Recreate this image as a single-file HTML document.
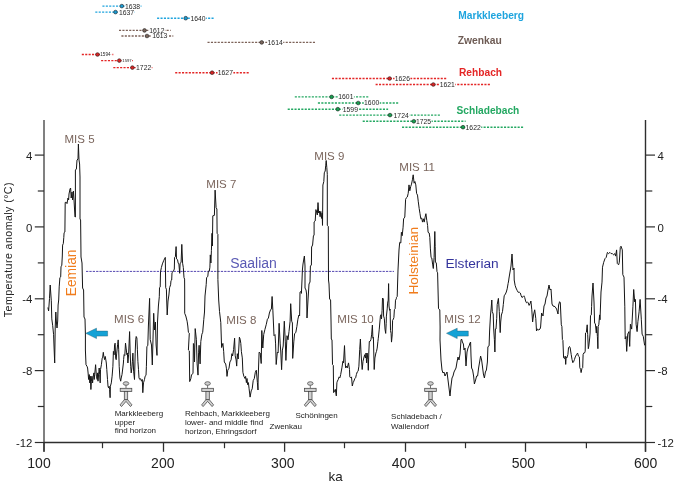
<!DOCTYPE html>
<html><head><meta charset="utf-8"><style>
html,body{margin:0;padding:0;background:#fff;}
svg{display:block;will-change:transform;}
text{font-family:"Liberation Sans", sans-serif;}
</style></head><body>
<svg width="675" height="485" viewBox="0 0 675 485">
<rect width="675" height="485" fill="#fff"/>
<line x1="102.4" y1="6.1" x2="141.5" y2="6.1" stroke="#1ea4de" stroke-width="1.4" stroke-dasharray="2.1 1.3"/>
<rect x="124.7" y="3.0" width="15.9" height="6.1" fill="#fff"/>
<text x="125.0" y="8.5" font-size="6.8" fill="#262626">1638</text>
<circle cx="121.8" cy="6.1" r="1.85" fill="#1a9ad2" stroke="#222" stroke-width="0.6"/>
<line x1="95.3" y1="12.1" x2="135.5" y2="12.1" stroke="#1ea4de" stroke-width="1.4" stroke-dasharray="2.1 1.3"/>
<rect x="118.7" y="9.0" width="15.9" height="6.1" fill="#fff"/>
<text x="119.0" y="14.5" font-size="6.8" fill="#262626">1637</text>
<circle cx="115.5" cy="12.1" r="1.85" fill="#1a9ad2" stroke="#222" stroke-width="0.6"/>
<line x1="157.1" y1="18.2" x2="214.0" y2="18.2" stroke="#1ea4de" stroke-width="1.4" stroke-dasharray="2.1 1.3"/>
<rect x="190.1" y="15.1" width="15.9" height="6.1" fill="#fff"/>
<text x="190.4" y="20.6" font-size="6.8" fill="#262626">1640</text>
<circle cx="185.7" cy="18.2" r="1.85" fill="#1a9ad2" stroke="#222" stroke-width="0.6"/>
<line x1="119.0" y1="30.4" x2="170.7" y2="30.4" stroke="#7c6258" stroke-width="1.4" stroke-dasharray="2.1 1.3"/>
<rect x="149.0" y="27.3" width="15.9" height="6.1" fill="#fff"/>
<text x="149.3" y="32.8" font-size="6.8" fill="#262626">1612</text>
<circle cx="144.5" cy="30.4" r="1.85" fill="#7a665c" stroke="#222" stroke-width="0.6"/>
<line x1="121.4" y1="36.0" x2="173.3" y2="36.0" stroke="#7c6258" stroke-width="1.4" stroke-dasharray="2.1 1.3"/>
<rect x="151.9" y="32.9" width="15.9" height="6.1" fill="#fff"/>
<text x="152.2" y="38.4" font-size="6.8" fill="#262626">1613</text>
<circle cx="147.0" cy="36.0" r="1.85" fill="#7a665c" stroke="#222" stroke-width="0.6"/>
<line x1="207.5" y1="42.4" x2="315.6" y2="42.4" stroke="#7c6258" stroke-width="1.4" stroke-dasharray="2.1 1.3"/>
<rect x="267.3" y="39.3" width="15.9" height="6.1" fill="#fff"/>
<text x="267.6" y="44.8" font-size="6.8" fill="#262626">1614</text>
<circle cx="261.7" cy="42.4" r="1.85" fill="#7a665c" stroke="#222" stroke-width="0.6"/>
<line x1="81.8" y1="54.5" x2="113.3" y2="54.5" stroke="#e42626" stroke-width="1.4" stroke-dasharray="2.1 1.3"/>
<rect x="100.0" y="52.4" width="11.0" height="4.1" fill="#fff"/>
<text x="100.3" y="56.2" font-size="4.6" fill="#262626">1594</text>
<circle cx="97.5" cy="54.5" r="1.85" fill="#d82424" stroke="#222" stroke-width="0.6"/>
<line x1="101.1" y1="60.6" x2="132.9" y2="60.6" stroke="#e42626" stroke-width="1.4" stroke-dasharray="2.1 1.3"/>
<rect x="122.0" y="58.7" width="10.1" height="3.8" fill="#fff"/>
<text x="122.3" y="62.1" font-size="4.2" fill="#262626">1597</text>
<circle cx="119.3" cy="60.6" r="1.85" fill="#d82424" stroke="#222" stroke-width="0.6"/>
<line x1="113.3" y1="67.6" x2="152.4" y2="67.6" stroke="#e42626" stroke-width="1.4" stroke-dasharray="2.1 1.3"/>
<rect x="135.8" y="64.5" width="15.9" height="6.1" fill="#fff"/>
<text x="136.1" y="70.0" font-size="6.8" fill="#262626">1722</text>
<circle cx="132.4" cy="67.6" r="1.85" fill="#d82424" stroke="#222" stroke-width="0.6"/>
<line x1="175.2" y1="72.7" x2="248.9" y2="72.7" stroke="#e42626" stroke-width="1.4" stroke-dasharray="2.1 1.3"/>
<rect x="217.5" y="69.6" width="15.9" height="6.1" fill="#fff"/>
<text x="217.8" y="75.1" font-size="6.8" fill="#262626">1627</text>
<circle cx="212.1" cy="72.7" r="1.85" fill="#d82424" stroke="#222" stroke-width="0.6"/>
<line x1="331.9" y1="78.5" x2="446.7" y2="78.5" stroke="#e42626" stroke-width="1.4" stroke-dasharray="2.1 1.3"/>
<rect x="394.5" y="75.4" width="15.9" height="6.1" fill="#fff"/>
<text x="394.8" y="80.9" font-size="6.8" fill="#262626">1626</text>
<circle cx="389.6" cy="78.5" r="1.85" fill="#d82424" stroke="#222" stroke-width="0.6"/>
<line x1="375.6" y1="84.5" x2="490.7" y2="84.5" stroke="#e42626" stroke-width="1.4" stroke-dasharray="2.1 1.3"/>
<rect x="439.4" y="81.4" width="15.9" height="6.1" fill="#fff"/>
<text x="439.7" y="86.9" font-size="6.8" fill="#262626">1621</text>
<circle cx="433.3" cy="84.5" r="1.85" fill="#d82424" stroke="#222" stroke-width="0.6"/>
<line x1="294.8" y1="96.9" x2="368.6" y2="96.9" stroke="#24a862" stroke-width="1.4" stroke-dasharray="2.1 1.3"/>
<rect x="338.0" y="93.8" width="15.9" height="6.1" fill="#fff"/>
<text x="338.3" y="99.3" font-size="6.8" fill="#262626">1601</text>
<circle cx="331.6" cy="96.9" r="1.85" fill="#17a050" stroke="#222" stroke-width="0.6"/>
<line x1="317.9" y1="103.0" x2="398.8" y2="103.0" stroke="#24a862" stroke-width="1.4" stroke-dasharray="2.1 1.3"/>
<rect x="363.8" y="99.9" width="15.9" height="6.1" fill="#fff"/>
<text x="364.1" y="105.4" font-size="6.8" fill="#262626">1600</text>
<circle cx="358.2" cy="103.0" r="1.85" fill="#17a050" stroke="#222" stroke-width="0.6"/>
<line x1="287.7" y1="109.2" x2="388.1" y2="109.2" stroke="#24a862" stroke-width="1.4" stroke-dasharray="2.1 1.3"/>
<rect x="342.5" y="106.1" width="15.9" height="6.1" fill="#fff"/>
<text x="342.8" y="111.6" font-size="6.8" fill="#262626">1599</text>
<circle cx="337.8" cy="109.2" r="1.85" fill="#17a050" stroke="#222" stroke-width="0.6"/>
<line x1="339.2" y1="115.1" x2="440.0" y2="115.1" stroke="#24a862" stroke-width="1.4" stroke-dasharray="2.1 1.3"/>
<rect x="393.3" y="112.0" width="15.9" height="6.1" fill="#fff"/>
<text x="393.6" y="117.5" font-size="6.8" fill="#262626">1724</text>
<circle cx="390.0" cy="115.1" r="1.85" fill="#17a050" stroke="#222" stroke-width="0.6"/>
<line x1="362.7" y1="121.3" x2="465.6" y2="121.3" stroke="#24a862" stroke-width="1.4" stroke-dasharray="2.1 1.3"/>
<rect x="415.7" y="118.2" width="15.9" height="6.1" fill="#fff"/>
<text x="416.0" y="123.7" font-size="6.8" fill="#262626">1725</text>
<circle cx="413.8" cy="121.3" r="1.85" fill="#17a050" stroke="#222" stroke-width="0.6"/>
<line x1="402.0" y1="127.2" x2="524.4" y2="127.2" stroke="#24a862" stroke-width="1.4" stroke-dasharray="2.1 1.3"/>
<rect x="465.3" y="124.1" width="15.9" height="6.1" fill="#fff"/>
<text x="465.6" y="129.6" font-size="6.8" fill="#262626">1622</text>
<circle cx="463.0" cy="127.2" r="1.85" fill="#17a050" stroke="#222" stroke-width="0.6"/>
<text x="458.3" y="18.7" font-size="10.2" font-weight="bold" fill="#1ea4de">Markkleeberg</text>
<text x="457.8" y="43.9" font-size="10.3" font-weight="bold" fill="#6e5c55">Zwenkau</text>
<text x="459.0" y="76.3" font-size="10.2" font-weight="bold" fill="#e42626">Rehbach</text>
<text x="456.5" y="113.7" font-size="10.2" font-weight="bold" fill="#24a862">Schladebach</text>
<line x1="86" y1="271.4" x2="394" y2="271.4" stroke="#5346b0" stroke-width="1.0" stroke-dasharray="2.3 1.07"/>
<polyline points="47.9,307.5 48.6,311.0 49.5,298.5 50.2,285.0 51.3,300.8 51.8,318.9 52.7,325.7 53.6,334.7 54.0,346.0 54.7,363.0 55.2,328.0 55.8,312.0 56.4,322.0 57.0,328.0 57.7,321.0 58.1,305.0 58.7,300.0 59.2,286.9 59.9,277.6 60.7,276.9 61.0,266.8 61.8,265.2 62.3,256.0 62.6,245.1 63.3,243.6 63.8,237.4 64.1,232.7 64.9,232.0 65.2,202.4 66.4,202.4 67.0,203.6 68.0,198.0 68.6,200.0 69.0,194.0 70.0,189.0 70.6,188.0 71.2,198.0 72.0,192.0 72.6,200.0 73.4,191.0 74.0,200.0 75.0,217.0 75.4,217.0 75.4,170.0 76.4,169.0 77.0,160.0 78.0,159.0 78.4,144.0 79.0,160.0 79.6,164.0 80.0,177.0 80.0,219.0 80.6,220.0 80.8,237.0 81.0,257.0 82.0,263.0 82.6,288.0 83.6,290.0 84.0,317.0 85.0,319.0 85.4,334.0 85.4,350.0 86.0,364.7 87.0,366.3 87.6,368.0 88.1,373.0 88.6,379.5 89.3,374.6 89.8,382.9 90.3,376.2 90.9,389.5 91.4,381.2 91.9,376.2 92.6,382.9 93.1,377.0 93.9,372.9 94.2,379.5 94.7,374.6 95.6,364.7 96.4,376.2 97.2,379.5 97.6,372.9 98.0,381.2 98.9,371.3 99.2,368.0 99.7,374.6 100.2,382.9 100.5,369.6 101.4,364.7 102.2,358.1 102.7,357.2 103.3,352.3 103.8,356.4 104.7,359.7 105.2,356.4 105.8,359.7 106.3,363.0 106.8,369.6 107.5,379.5 108.0,386.2 108.5,387.8 109.1,386.2 109.6,389.5 110.1,397.7 110.4,386.2 111.3,382.9 112.1,376.2 112.9,366.3 113.4,351.4 114.1,354.8 114.6,344.8 115.1,343.2 115.7,358.1 116.2,359.7 116.7,353.1 117.6,344.8 118.2,339.9 118.7,349.8 119.2,366.3 119.9,377.9 120.7,381.2 121.2,378.0 122.0,374.6 122.8,368.0 123.4,363.0 123.6,359.7 124.1,354.7 124.8,355.5 125.5,343.1 126.1,348.1 126.9,354.7 127.4,353.0 127.9,363.0 128.6,354.7 129.1,343.1 129.6,331.6 130.2,353.1 130.7,366.3 131.2,372.9 131.9,367.9 132.4,361.3 132.9,353.1 133.6,371.2 134.5,379.5 135.2,353.1 135.7,339.8 136.2,336.5 136.9,338.0 137.4,349.8 137.9,361.3 138.5,369.6 139.0,377.9 139.8,379.5 140.7,378.7 141.5,381.2 142.3,379.5 142.8,392.7 143.5,382.8 144.5,379.5 145.1,376.2 146.0,375.4 146.4,366.3 146.9,346.4 147.8,345.6 148.4,326.0 149.6,298.4 150.2,339.6 151.5,345.0 152.3,365.0 153.7,313.3 154.5,330.0 155.4,322.0 156.1,345.0 157.0,355.4 157.5,322.0 158.4,306.0 159.3,296.7 159.5,287.7 160.2,287.0 160.5,271.8 161.4,267.5 162.4,263.9 163.8,260.3 165.3,257.4 165.7,287.7 166.4,289.2 166.7,300.0 167.2,315.0 168.0,301.0 168.9,295.0 169.6,287.7 170.6,284.8 171.0,280.5 171.7,280.0 172.0,272.6 172.9,271.8 173.5,271.0 174.3,269.0 174.6,257.4 175.4,256.7 176.1,246.6 176.5,258.9 177.5,259.6 178.2,263.2 178.9,264.0 179.7,273.3 180.1,263.2 181.1,262.5 181.8,244.4 182.6,263.2 183.3,267.5 184.0,277.6 184.6,279.1 184.7,290.0 184.7,313.3 185.8,316.0 187.1,321.2 187.8,326.0 188.4,332.3 189.3,333.2 188.4,350.0 189.3,350.9 189.7,381.6 190.8,378.8 191.5,375.0 193.0,373.2 193.4,343.5 193.9,345.3 194.5,362.0 195.2,328.6 196.4,339.7 197.1,363.9 198.0,375.1 198.6,352.8 199.1,345.3 200.1,363.9 200.8,341.6 201.9,334.2 202.7,332.3 203.8,319.3 204.5,312.0 205.0,296.0 206.2,284.6 206.6,277.5 207.8,276.5 208.3,271.3 209.3,271.0 209.9,267.2 210.3,254.9 210.9,263.0 211.4,250.7 212.0,233.3 212.4,246.0 212.8,215.8 214.4,215.4 215.1,190.1 216.1,207.6 216.9,209.0 217.1,233.3 217.9,234.3 217.9,279.5 218.7,300.0 219.5,311.4 220.8,322.7 221.6,347.5 222.9,343.4 223.7,351.7 224.3,362.0 225.7,364.0 226.4,368.2 227.0,376.4 227.8,370.2 229.0,368.2 229.9,362.0 231.1,359.9 231.9,353.7 232.6,356.0 233.6,349.6 234.6,338.2 235.2,355.8 236.1,359.9 236.7,366.1 237.3,353.7 238.2,359.0 239.4,337.2 240.2,339.3 240.8,343.4 241.4,351.7 242.3,357.9 242.9,372.3 243.9,376.4 245.0,378.5 245.6,376.4 246.4,382.6 247.0,378.5 247.6,384.7 248.4,382.6 249.1,388.8 250.1,397.1 251.2,390.9 252.2,388.8 253.2,380.6 254.3,378.5 255.3,372.3 256.3,370.2 257.4,382.6 258.0,390.0 258.1,380.0 259.1,352.2 260.2,353.0 261.2,363.5 261.8,330.5 262.8,348.0 263.7,334.6 264.9,329.5 266.3,324.3 267.4,319.2 268.4,318.1 269.4,313.0 270.5,309.9 271.4,309.0 272.1,296.5 272.9,310.9 274.0,335.7 275.0,334.6 275.6,343.9 276.2,364.5 277.3,352.2 278.1,353.0 279.1,323.3 280.2,343.9 280.8,352.0 281.6,369.7 282.4,350.1 283.2,346.0 284.3,321.2 285.3,341.9 285.9,360.4 287.0,335.7 288.0,339.8 289.0,331.5 290.1,321.2 290.7,303.7 291.7,321.2 292.4,323.0 292.7,358.4 293.8,341.9 294.6,333.6 295.8,332.6 296.9,326.4 297.9,319.2 298.9,315.0 299.6,316.0 300.0,292.4 300.8,291.4 301.4,293.4 302.0,280.0 302.4,270.0 303.0,264.0 304.0,258.0 304.4,256.0 305.0,266.0 305.0,288.0 306.0,290.0 306.6,294.0 307.0,318.0 308.0,300.0 309.0,284.0 310.0,282.0 310.4,266.0 311.4,265.0 311.6,247.0 312.6,245.0 313.4,236.0 314.1,235.0 314.1,222.0 315.2,221.0 315.9,209.6 316.6,212.0 317.3,215.0 318.0,202.6 318.7,213.0 319.4,211.0 320.1,216.7 320.8,211.4 321.5,218.4 322.2,213.0 322.5,225.4 322.9,185.0 323.8,181.6 324.3,172.8 325.2,171.0 325.7,165.8 326.2,160.5 326.8,167.5 327.3,174.6 327.3,225.4 328.3,226.3 328.5,280.0 329.0,284.0 329.6,299.0 330.6,300.0 331.0,320.0 331.3,339.0 332.0,340.0 332.5,364.6 333.3,365.4 333.6,392.6 334.6,391.0 335.3,389.3 336.3,395.9 336.9,382.7 337.4,381.1 338.3,379.4 339.1,376.9 339.9,377.8 340.7,374.5 341.9,367.9 342.9,361.3 343.5,362.9 344.5,345.6 345.2,362.9 345.7,367.9 346.5,366.2 347.3,367.9 348.5,362.9 349.5,369.5 349.8,376.9 350.6,377.8 351.5,376.9 352.3,386.0 353.1,382.7 353.9,381.1 354.8,378.6 355.6,377.8 356.4,374.5 357.2,372.0 358.1,371.2 358.9,366.2 359.7,349.7 360.4,339.0 361.0,353.0 362.2,369.5 363.0,361.3 363.8,358.0 364.7,354.7 365.5,358.0 366.0,353.0 366.6,362.9 367.1,353.0 367.9,359.6 368.3,370.3 368.8,353.0 369.3,341.5 370.0,341.5 370.9,339.8 371.6,334.9 372.4,325.0 372.9,338.2 373.4,337.3 374.2,369.5 374.9,358.0 375.9,353.0 376.5,351.4 377.2,348.1 377.9,341.5 378.3,338.2 379.2,329.9 380.4,316.1 381.0,314.7 381.5,319.0 382.1,310.3 382.5,298.0 383.3,298.8 383.6,316.1 384.3,318.3 385.0,329.1 385.7,333.4 386.2,323.3 386.4,316.1 387.2,308.9 387.6,303.1 388.2,300.2 388.6,283.6 389.0,306.0 389.6,310.3 390.1,309.0 390.5,330.5 391.1,333.4 391.5,342.1 392.2,334.9 392.6,320.4 393.4,319.0 393.9,317.5 394.4,309.6 395.1,308.9 395.5,300.2 396.3,298.8 396.5,297.3 397.2,296.5 397.7,280.0 398.0,270.0 399.0,250.0 399.7,242.4 400.8,243.0 401.4,232.3 402.2,235.7 403.1,227.2 403.6,218.8 404.8,217.1 405.6,199.3 406.5,197.6 407.3,197.0 408.2,193.4 409.0,184.9 409.8,190.8 410.7,186.6 411.5,184.1 412.4,179.8 413.2,174.8 414.1,183.2 414.9,181.5 415.8,184.9 416.6,193.4 417.5,195.1 418.3,201.8 419.2,208.6 420.0,213.7 420.8,218.8 421.7,218.0 422.5,222.1 423.4,218.8 424.2,222.1 425.1,217.1 425.9,213.7 426.8,220.5 427.6,225.5 428.1,232.3 429.2,233.0 429.8,237.4 430.4,248.9 431.1,257.6 431.8,258.0 432.6,264.1 433.3,268.5 434.1,257.6 434.8,231.5 435.2,246.7 435.4,262.0 436.3,263.0 437.0,271.7 437.6,272.8 438.5,308.7 439.8,309.8 440.1,327.0 440.0,340.0 441.0,360.0 442.0,370.0 443.0,373.0 444.0,372.0 445.0,376.0 446.0,374.0 447.0,372.0 448.0,380.0 449.0,388.0 450.0,396.0 451.0,386.0 452.0,378.0 453.0,376.0 454.0,372.0 455.0,370.0 456.0,368.0 457.0,362.0 458.0,357.0 459.0,360.0 460.0,354.0 461.0,340.0 461.6,339.0 462.4,342.0 463.4,344.0 464.0,350.0 465.0,348.0 466.0,366.0 467.0,352.0 468.0,348.0 469.0,346.0 470.0,343.0 470.6,342.0 471.0,356.0 471.6,368.0 472.6,370.0 473.6,376.0 474.4,384.0 475.6,380.0 476.6,376.0 477.6,376.0 478.6,368.0 479.6,362.0 480.6,356.0 481.6,360.0 482.4,366.0 483.4,374.0 484.4,378.0 485.4,372.0 486.4,370.0 487.4,362.0 487.9,346.7 489.1,345.8 489.6,331.0 490.5,315.0 491.1,309.0 491.8,300.0 492.3,311.6 493.2,314.0 493.7,329.0 494.4,339.6 494.9,352.0 495.4,329.0 496.0,329.0 496.7,318.6 497.2,304.6 498.4,298.4 499.3,311.6 500.2,332.6 500.7,322.0 501.4,315.0 502.5,311.6 503.3,304.6 504.2,295.8 505.4,294.0 506.3,292.0 507.2,288.8 508.1,283.5 508.6,281.0 509.0,278.0 510.0,272.0 511.0,266.0 512.0,254.0 513.0,270.0 514.0,268.0 514.2,280.0 515.1,285.3 516.0,288.0 517.2,290.5 518.2,292.3 519.5,292.3 520.3,293.0 521.2,295.8 522.0,297.5 523.0,296.7 523.9,295.8 524.7,297.5 525.6,301.0 526.5,302.8 527.4,302.0 528.2,302.8 529.1,305.4 530.0,303.7 530.9,301.0 531.8,309.8 532.6,322.0 533.5,315.0 534.7,309.8 535.8,318.6 536.5,331.0 537.5,329.0 538.8,330.0 540.0,329.0 540.6,327.0 541.6,313.0 543.0,316.0 544.0,306.0 545.0,304.0 546.0,298.0 547.0,296.0 548.0,290.0 549.0,285.0 550.0,290.0 551.0,289.0 552.0,304.0 553.0,306.0 555.0,306.6 556.6,309.0 558.0,314.0 558.6,305.0 559.6,301.7 560.3,302.5 561.3,324.8 561.9,326.4 562.4,339.6 562.9,340.4 563.6,357.8 564.6,358.6 565.2,356.1 565.7,364.4 566.2,356.9 566.9,357.8 567.9,354.5 568.5,347.9 569.5,346.5 570.2,347.9 571.2,354.5 572.0,359.4 572.8,362.7 573.5,361.9 574.5,359.4 575.3,356.9 576.5,354.5 577.6,353.1 578.4,356.1 579.4,356.9 579.8,367.7 580.6,369.3 581.1,372.6 581.9,368.5 582.7,367.7 583.1,354.5 583.9,352.8 584.7,352.8 585.2,351.2 585.5,333.0 586.4,332.2 587.2,324.8 587.7,334.7 588.3,348.7 588.8,346.2 589.7,338.0 590.1,333.0 590.5,315.7 591.3,314.9 591.6,306.6 592.0,296.0 593.0,283.0 594.0,302.0 594.6,323.1 595.4,323.9 596.3,333.0 596.7,326.4 597.4,336.3 597.9,348.7 598.2,326.4 598.8,324.8 599.6,314.9 600.0,319.8 601.0,292.0 602.0,282.1 602.5,267.2 603.7,262.3 605.0,258.6 606.2,257.4 607.4,252.4 608.6,253.6 609.9,252.4 611.1,253.6 612.4,253.6 613.6,254.8 614.9,253.6 615.6,256.1 616.6,249.9 617.3,263.5 618.6,264.8 619.3,262.3 620.3,247.4 621.0,246.2 622.3,249.9 622.8,274.7 624.0,277.1 624.8,306.8 625.2,339.0 626.0,336.5 626.7,351.4 627.7,334.1 629.0,331.6 629.7,346.4 630.4,324.2 631.7,329.1 632.9,306.8 633.7,289.5 634.7,301.9 635.4,299.4 636.1,324.2 637.1,331.6 637.9,321.7 639.1,311.8 640.1,299.4 641.3,319.2 642.1,334.1 643.3,336.5 644.6,345.2 645.3,344.0" fill="none" stroke="#151515" stroke-width="1.0" stroke-linejoin="miter" stroke-miterlimit="3"/>
<line x1="44.0" y1="120.0" x2="44.0" y2="451.8" stroke="#6a6a6a" stroke-width="1.7"/>
<line x1="645.5" y1="120.0" x2="645.5" y2="451.8" stroke="#2e2e2e" stroke-width="1.4"/>
<line x1="44.0" y1="442.5" x2="645.5" y2="442.5" stroke="#2e2e2e" stroke-width="1.4"/>
<line x1="34.8" y1="155.1" x2="44.0" y2="155.1" stroke="#2e2e2e" stroke-width="1.2"/>
<line x1="645.5" y1="155.1" x2="655" y2="155.1" stroke="#2e2e2e" stroke-width="1.2"/>
<text x="32.4" y="159.7" font-size="11.4" fill="#222" text-anchor="end">4</text>
<text x="657.4" y="159.7" font-size="11.4" fill="#222">4</text>
<line x1="34.8" y1="226.9" x2="44.0" y2="226.9" stroke="#2e2e2e" stroke-width="1.2"/>
<line x1="645.5" y1="226.9" x2="655" y2="226.9" stroke="#2e2e2e" stroke-width="1.2"/>
<text x="32.4" y="231.5" font-size="11.4" fill="#222" text-anchor="end">0</text>
<text x="657.4" y="231.5" font-size="11.4" fill="#222">0</text>
<line x1="34.8" y1="298.8" x2="44.0" y2="298.8" stroke="#2e2e2e" stroke-width="1.2"/>
<line x1="645.5" y1="298.8" x2="655" y2="298.8" stroke="#2e2e2e" stroke-width="1.2"/>
<text x="32.4" y="303.4" font-size="11.4" fill="#222" text-anchor="end">-4</text>
<text x="657.4" y="303.4" font-size="11.4" fill="#222">-4</text>
<line x1="34.8" y1="370.6" x2="44.0" y2="370.6" stroke="#2e2e2e" stroke-width="1.2"/>
<line x1="645.5" y1="370.6" x2="655" y2="370.6" stroke="#2e2e2e" stroke-width="1.2"/>
<text x="32.4" y="375.2" font-size="11.4" fill="#222" text-anchor="end">-8</text>
<text x="657.4" y="375.2" font-size="11.4" fill="#222">-8</text>
<line x1="34.8" y1="442.5" x2="44.0" y2="442.5" stroke="#2e2e2e" stroke-width="1.2"/>
<line x1="645.5" y1="442.5" x2="655" y2="442.5" stroke="#2e2e2e" stroke-width="1.2"/>
<text x="32.4" y="447.1" font-size="11.4" fill="#222" text-anchor="end">-12</text>
<text x="657.4" y="447.1" font-size="11.4" fill="#222">-12</text>
<line x1="37.8" y1="191.0" x2="44.0" y2="191.0" stroke="#2e2e2e" stroke-width="1.2"/>
<line x1="645.5" y1="191.0" x2="652.3" y2="191.0" stroke="#2e2e2e" stroke-width="1.2"/>
<line x1="37.8" y1="262.9" x2="44.0" y2="262.9" stroke="#2e2e2e" stroke-width="1.2"/>
<line x1="645.5" y1="262.9" x2="652.3" y2="262.9" stroke="#2e2e2e" stroke-width="1.2"/>
<line x1="37.8" y1="334.7" x2="44.0" y2="334.7" stroke="#2e2e2e" stroke-width="1.2"/>
<line x1="645.5" y1="334.7" x2="652.3" y2="334.7" stroke="#2e2e2e" stroke-width="1.2"/>
<line x1="37.8" y1="406.5" x2="44.0" y2="406.5" stroke="#2e2e2e" stroke-width="1.2"/>
<line x1="645.5" y1="406.5" x2="652.3" y2="406.5" stroke="#2e2e2e" stroke-width="1.2"/>
<line x1="44.0" y1="442.5" x2="44.0" y2="451.8" stroke="#2e2e2e" stroke-width="1.3"/>
<text x="39.0" y="467.9" font-size="14" fill="#222" text-anchor="middle">100</text>
<line x1="163.5" y1="442.5" x2="163.5" y2="451.8" stroke="#2e2e2e" stroke-width="1.3"/>
<text x="162.8" y="467.9" font-size="14" fill="#222" text-anchor="middle">200</text>
<line x1="284.6" y1="442.5" x2="284.6" y2="451.8" stroke="#2e2e2e" stroke-width="1.3"/>
<text x="282.8" y="467.9" font-size="14" fill="#222" text-anchor="middle">300</text>
<line x1="405.5" y1="442.5" x2="405.5" y2="451.8" stroke="#2e2e2e" stroke-width="1.3"/>
<text x="403.5" y="467.9" font-size="14" fill="#222" text-anchor="middle">400</text>
<line x1="525.5" y1="442.5" x2="525.5" y2="451.8" stroke="#2e2e2e" stroke-width="1.3"/>
<text x="523.4" y="467.9" font-size="14" fill="#222" text-anchor="middle">500</text>
<line x1="645.5" y1="442.5" x2="645.5" y2="451.8" stroke="#2e2e2e" stroke-width="1.3"/>
<text x="645.6" y="467.9" font-size="14" fill="#222" text-anchor="middle">600</text>
<line x1="102.5" y1="442.5" x2="102.5" y2="448.2" stroke="#2e2e2e" stroke-width="1.2"/>
<line x1="224.5" y1="442.5" x2="224.5" y2="448.2" stroke="#2e2e2e" stroke-width="1.2"/>
<line x1="344.5" y1="442.5" x2="344.5" y2="448.2" stroke="#2e2e2e" stroke-width="1.2"/>
<line x1="465.5" y1="442.5" x2="465.5" y2="448.2" stroke="#2e2e2e" stroke-width="1.2"/>
<line x1="586.4" y1="442.5" x2="586.4" y2="448.2" stroke="#2e2e2e" stroke-width="1.2"/>
<text x="328.6" y="481.1" font-size="13.4" fill="#222">ka</text>
<text transform="translate(11.6,317.2) rotate(-90)" font-size="10.6" letter-spacing="0.45" fill="#222">Temperature anomaly (°C)</text>
<text x="64.5" y="143.4" font-size="11.5" fill="#7a655c">MIS 5</text>
<text x="206.29999999999998" y="188.3" font-size="11.5" fill="#7a655c">MIS 7</text>
<text x="314.3" y="159.70000000000002" font-size="11.5" fill="#7a655c">MIS 9</text>
<text x="399.3" y="170.9" font-size="11.5" fill="#7a655c">MIS 11</text>
<text x="114.10000000000001" y="323.3" font-size="11.5" fill="#7a655c">MIS 6</text>
<text x="226.29999999999998" y="323.90000000000003" font-size="11.5" fill="#7a655c">MIS 8</text>
<text x="337.3" y="323.3" font-size="11.5" fill="#7a655c">MIS 10</text>
<text x="444.3" y="322.7" font-size="11.5" fill="#7a655c">MIS 12</text>
<text transform="translate(75.7,296.3) rotate(-90)" font-size="13.8" fill="#f07c1c">Eemian</text>
<text transform="translate(417.9,294.6) rotate(-90)" font-size="13.7" fill="#f07c1c">Holsteinian</text>
<text x="230.2" y="267.5" font-size="14" fill="#5a5ab4">Saalian</text>
<text x="445.4" y="267.5" font-size="13.7" fill="#34349c">Elsterian</text>
<path d="M85.8,333.3 L96.5,328.2 L96.5,331.1 L107.6,331.1 L107.6,336.1 L96.5,336.1 L96.5,338.6 Z" fill="#14a2d6" stroke="#1f5d74" stroke-width="0.45" stroke-linejoin="miter"/>
<path d="M446.5,333.3 L457.2,328.2 L457.2,331.1 L468.3,331.1 L468.3,336.1 L457.2,336.1 L457.2,338.6 Z" fill="#14a2d6" stroke="#1f5d74" stroke-width="0.45" stroke-linejoin="miter"/>
<g fill="#d0d0d0" stroke="#444" stroke-width="0.75"><line x1="126.0" y1="385.2" x2="126.0" y2="388.2"/><ellipse cx="126.0" cy="383.5" rx="2.8" ry="1.8"/><rect x="120.2" y="388.3" width="11.6" height="3.2"/><rect x="124.3" y="391.5" width="3.4" height="8.2"/><path d="M124.3,399.7 L120.0,404.9 L121.5,406.6 L126.0,401.4 L130.5,406.6 L132.0,404.9 L127.7,399.7 Z"/></g>
<g fill="#d0d0d0" stroke="#444" stroke-width="0.75"><line x1="207.6" y1="385.2" x2="207.6" y2="388.2"/><ellipse cx="207.6" cy="383.5" rx="2.8" ry="1.8"/><rect x="201.79999999999998" y="388.3" width="11.6" height="3.2"/><rect x="205.9" y="391.5" width="3.4" height="8.2"/><path d="M205.9,399.7 L201.6,404.9 L203.1,406.6 L207.6,401.4 L212.1,406.6 L213.6,404.9 L209.29999999999998,399.7 Z"/></g>
<g fill="#d0d0d0" stroke="#444" stroke-width="0.75"><line x1="310.3" y1="385.2" x2="310.3" y2="388.2"/><ellipse cx="310.3" cy="383.5" rx="2.8" ry="1.8"/><rect x="304.5" y="388.3" width="11.6" height="3.2"/><rect x="308.6" y="391.5" width="3.4" height="8.2"/><path d="M308.6,399.7 L304.3,404.9 L305.8,406.6 L310.3,401.4 L314.8,406.6 L316.3,404.9 L312.0,399.7 Z"/></g>
<g fill="#d0d0d0" stroke="#444" stroke-width="0.75"><line x1="430.5" y1="385.2" x2="430.5" y2="388.2"/><ellipse cx="430.5" cy="383.5" rx="2.8" ry="1.8"/><rect x="424.7" y="388.3" width="11.6" height="3.2"/><rect x="428.8" y="391.5" width="3.4" height="8.2"/><path d="M428.8,399.7 L424.5,404.9 L426.0,406.6 L430.5,401.4 L435.0,406.6 L436.5,404.9 L432.2,399.7 Z"/></g>
<text x="114.7" y="416.0" font-size="8" fill="#222">Markkleeberg</text><text x="114.7" y="424.7" font-size="8" fill="#222">upper</text><text x="114.7" y="433.4" font-size="8" fill="#222">find horizon</text>
<text x="184.9" y="416.2" font-size="8" fill="#222">Rehbach, Markkleeberg</text><text x="184.9" y="424.9" font-size="8" fill="#222">lower- and middle find</text><text x="184.9" y="433.6" font-size="8" fill="#222">horizon, Ehringsdorf</text>
<text x="269.5" y="428.5" font-size="8" fill="#222">Zwenkau</text>
<text x="295.5" y="417.9" font-size="8" fill="#222">Schöningen</text>
<text x="391.1" y="419.2" font-size="8" fill="#222">Schladebach /</text><text x="391.1" y="428.5" font-size="8" fill="#222">Wallendorf</text>
</svg>
</body></html>
